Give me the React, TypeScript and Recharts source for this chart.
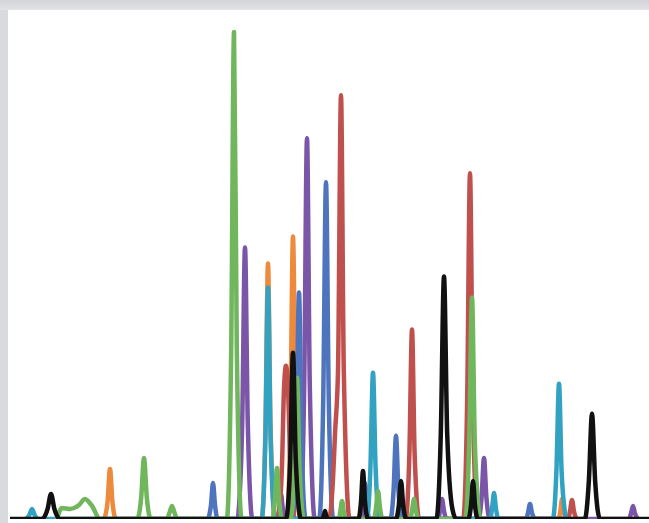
import { LineChart, Line, XAxis, YAxis } from 'recharts';

// retention time (min) / signal (%) pairs
type Pt = [number, number];

const green: Pt[] = [
  [2.35, 0], [2.6, 2.2], [3.0, 2.0], [3.45, 2.8], [3.75, 4.0], [4.1, 2.6], [4.5, 0],
  [6.36, 0], [6.56, 4.3], [6.7, 12.2], [6.84, 4.3], [7.04, 0],
  [7.85, 0], [7.97, 1.2], [8.1, 2.6], [8.23, 1.2], [8.37, 0],
  [10.84, 0], [11.06, 34], [11.2, 97.2], [11.34, 34], [11.58, 0],
  [13.12, 0], [13.24, 3.6], [13.35, 10.2], [13.46, 3.6], [13.6, 0],
  [14.02, 0], [14.22, 9.9], [14.35, 28.2], [14.48, 9.9], [14.7, 0],
  [16.45, 0], [16.52, 1.6], [16.6, 3.6], [16.68, 1.6], [16.8, 0],
  [18.2, 0], [18.3, 2.2], [18.4, 5.6], [18.5, 2.2], [18.62, 0],
  [20.0, 0], [20.1, 1.6], [20.2, 4], [20.3, 1.6], [20.42, 0],
  [22.76, 0], [22.96, 15.5], [23.1, 44.2], [23.24, 15.5], [23.48, 0],
];

const purple: Pt[] = [
  [11.4, 0], [11.61, 19], [11.75, 54.2], [11.89, 19], [12.12, 0],
  [13.35, 0], [13.46, 2], [13.55, 5], [13.64, 2], [13.78, 0],
  [14.5, 0], [14.71, 26.6], [14.85, 76], [14.99, 26.6], [15.24, 0],
  [17.55, 0], [17.66, 2.8], [17.75, 7.2], [17.84, 2.8], [17.98, 0],
  [21.4, 0], [21.5, 1.6], [21.6, 4], [21.7, 1.6], [21.82, 0],
  [23.42, 0], [23.58, 4.3], [23.7, 12.2], [23.82, 4.3], [24.0, 0],
  [30.95, 0], [31.05, 1.1], [31.15, 2.6], [31.25, 1.1], [31.38, 0],
];

const red: Pt[] = [
  [13.42, 0], [13.6, 10.7], [13.7, 26], [13.8, 30.6], [13.9, 26], [14.02, 10.7], [14.22, 0],
  [15.95, 0], [16.15, 8], [16.25, 17], [16.4, 29.6], [16.55, 84.6], [16.69, 29.6], [16.98, 0],
  [19.78, 0], [19.97, 13.2], [20.1, 37.8], [20.23, 13.2], [20.46, 0],
  [22.66, 0], [22.86, 24], [23.0, 69], [23.14, 24], [23.38, 0],
  [27.9, 0], [28.0, 1.5], [28.1, 3.8], [28.2, 1.5], [28.32, 0],
];

const blue: Pt[] = [
  [9.92, 0], [10.05, 2.8], [10.15, 7.2], [10.25, 2.8], [10.38, 0],
  [14.14, 0], [14.32, 15.8], [14.45, 45.2], [14.58, 15.8], [14.78, 0],
  [15.46, 0], [15.66, 23.5], [15.8, 67.2], [15.94, 23.5], [16.16, 0],
  [19.02, 0], [19.18, 5.8], [19.3, 16.6], [19.42, 5.8], [19.6, 0],
  [25.8, 0], [25.9, 1.2], [26.0, 3], [26.1, 1.2], [26.22, 0],
];

const teal: Pt[] = [
  [0.8, 0], [0.98, 0.9], [1.1, 2], [1.22, 0.9], [1.4, 0],
  [12.58, 0], [12.77, 16.2], [12.9, 46.2], [13.03, 16.2], [13.26, 0],
  [17.84, 0], [18.02, 10.2], [18.15, 29.2], [18.28, 10.2], [18.48, 0],
  [24.0, 0], [24.1, 2], [24.2, 5.2], [24.3, 2], [24.42, 0],
  [27.14, 0], [27.32, 9.5], [27.45, 27], [27.58, 9.5], [27.8, 0],
];

const orange: Pt[] = [
  [4.72, 0], [4.88, 3.5], [5.0, 10], [5.12, 3.5], [5.3, 0],
  [12.58, 0], [12.77, 17.9], [12.9, 51], [13.03, 17.9], [13.26, 0],
  [13.84, 0], [14.02, 19.7], [14.15, 56.4], [14.28, 19.7], [14.5, 0],
  [27.42, 0], [27.52, 1.6], [27.6, 4], [27.68, 1.6], [27.8, 0],
];

const black: Pt[] = [
  [0, 0],
  [1.6, 0], [1.88, 2], [2.05, 5], [2.22, 2], [2.5, 0],
  [13.8, 0], [14.01, 11.6], [14.15, 33.2], [14.29, 11.6], [14.55, 0],
  [15.6, 0], [15.7, 0.8], [15.75, 1.6], [15.8, 0.8], [15.9, 0],
  [17.42, 0], [17.55, 3.4], [17.65, 9.6], [17.75, 3.4], [17.9, 0],
  [19.3, 0], [19.44, 2.7], [19.55, 7.6], [19.66, 2.7], [19.82, 0],
  [21.32, 0], [21.54, 17], [21.7, 48.4], [21.86, 17], [22.12, 2], [22.32, 0],
  [22.92, 0], [23.05, 2.7], [23.15, 7.6], [23.25, 2.7], [23.4, 0],
  [28.74, 0], [28.94, 7.4], [29.1, 21], [29.26, 7.4], [29.5, 0],
  [31.95, 0],
];

const traces = [
  { name: 'orange', pts: orange, color: '#ee8a3c' },
  { name: 'purple', pts: purple, color: '#7a55a8' },
  { name: 'blue', pts: blue, color: '#4d74bd' },
  { name: 'red', pts: red, color: '#c0504d' },
  { name: 'teal', pts: teal, color: '#32a2c2' },
  { name: 'green', pts: green, color: '#70b65c' },
  { name: 'black', pts: black, color: '#111111' },
];

export default function App() {
  return (
    <div style={{ position: 'absolute', left: 0, top: 0, width: 649, height: 523, background: '#d9dadd', overflow: 'hidden' }}>
      <div style={{ position: 'absolute', left: 0, top: 0, width: 649, height: 10, background: 'linear-gradient(#d2d4d7, #e2e3e6)' }} />
      <div style={{ position: 'absolute', left: 8, top: 10, width: 641, height: 513, background: '#ffffff' }} />
      <div style={{ position: 'absolute', left: 0, top: 0 }}>
        <LineChart width={649} height={523} margin={{ top: 18, right: 0, bottom: 4, left: 10 }}>
          <XAxis dataKey="t" type="number" domain={[0, 31.95]} hide allowDataOverflow />
          <YAxis type="number" domain={[0, 100]} hide allowDataOverflow />
          {traces.map((s) => (
            <Line
              key={s.name}
              data={s.pts.map(([t, v]) => ({ t, v }))}
              dataKey="v"
              type="monotone"
              stroke={s.color}
              strokeWidth={4.5}
              strokeLinejoin="round"
              strokeLinecap="round"
              dot={false}
              activeDot={false}
              isAnimationActive={false}
            />
          ))}
        </LineChart>
      </div>
    </div>
  );
}
